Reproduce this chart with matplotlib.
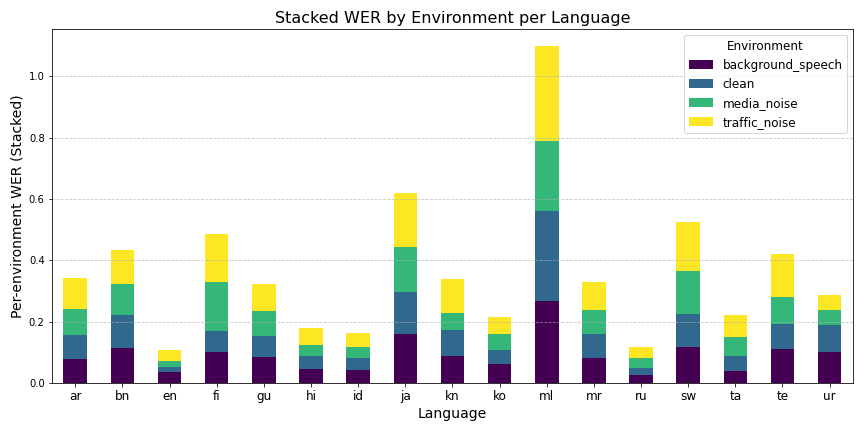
import matplotlib
matplotlib.use("Agg")
import matplotlib.pyplot as plt
import numpy as np
import pandas as pd

# ===================== 数据 =====================
LANGUAGES = ["ar", "bn", "en", "fi", "gu", "hi", "id", "ja", "kn", "ko",
             "ml", "mr", "ru", "sw", "ta", "te", "ur"]
background_speech = [0.078, 0.114, 0.036, 0.101, 0.085, 0.046, 0.042, 0.160, 0.088,
                     0.062, 0.267, 0.082, 0.026, 0.117, 0.039, 0.111, 0.101]
clean = [0.079, 0.108, 0.016, 0.069, 0.068, 0.042, 0.040, 0.137, 0.085,
         0.046, 0.294, 0.078, 0.023, 0.108, 0.049, 0.081, 0.088]
media_noise = [0.084, 0.101, 0.020, 0.159, 0.082, 0.036, 0.035, 0.146, 0.055,
               0.052, 0.228, 0.078, 0.033, 0.140, 0.062, 0.088, 0.049]
traffic_noise = [0.101, 0.111, 0.036, 0.157, 0.088, 0.055, 0.046, 0.177, 0.111,
                 0.055, 0.310, 0.091, 0.035, 0.160, 0.072, 0.141, 0.049]
ENV_NAMES = ["background_speech", "clean", "media_noise", "traffic_noise"]

df = pd.DataFrame({
    "background_speech": background_speech,
    "clean": clean,
    "media_noise": media_noise,
    "traffic_noise": traffic_noise,
}, index=LANGUAGES)[ENV_NAMES]

# ===================== 绘图 =====================
fig, ax = plt.subplots(figsize=(12, 6), dpi=72)
df.plot(kind="bar", stacked=True, colormap="viridis", ax=ax, width=0.5)

ax.set_title("Stacked WER by Environment per Language", fontsize=16)
ax.set_xlabel("Language", fontsize=14)
ax.set_ylabel("Per-environment WER (Stacked)", fontsize=14)
ax.tick_params(axis="x", labelsize=12, rotation=0)
ax.tick_params(axis="y", labelsize=10)
ax.grid(axis="y", linestyle="--", alpha=0.7)
ax.legend(title="Environment", fontsize=12, title_fontsize=12, loc="upper right")

plt.tight_layout()
plt.savefig("out.png", dpi=72)
plt.close()
